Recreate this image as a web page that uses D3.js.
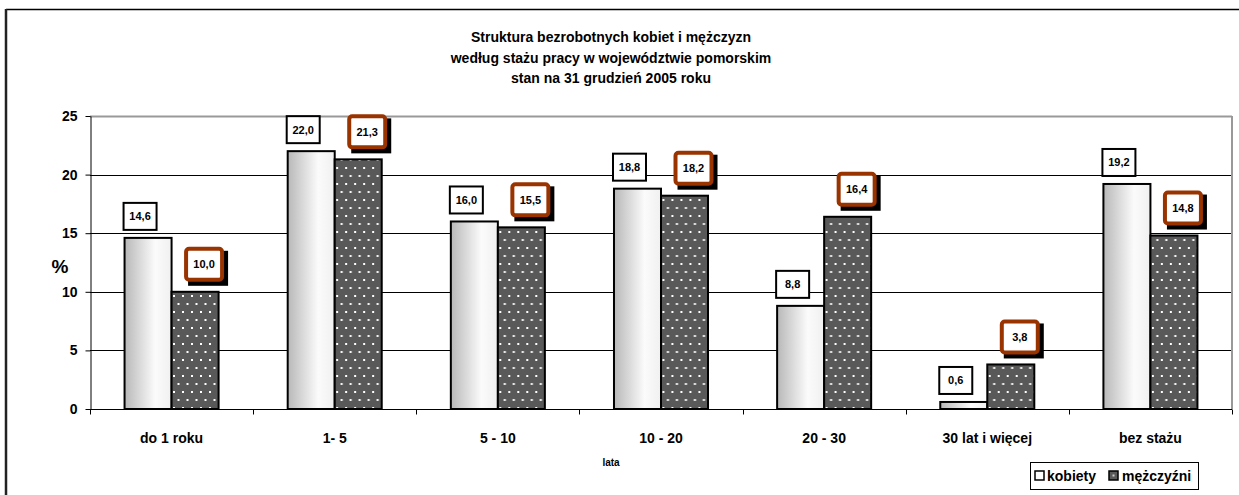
<!DOCTYPE html>
<meta charset="utf-8">
<script src="https://d3js.org/d3.v7.min.js"></script>
<style>
  body { margin: 0; background: #fff; }
  text { font-family: Arial, "Liberation Sans", sans-serif; font-weight: bold; }
</style>
<body>
<div id="my_dataviz"></div>
<script>

// data
var categories = ["do 1 roku", "1- 5", "5 - 10", "10 - 20", "20 - 30", "30 lat i więcej", "bez stażu"];
var kobiety = [14.6, 22.0, 16.0, 18.8, 8.8, 0.6, 19.2];
var mezczyzni = [10.0, 21.3, 15.5, 18.2, 16.4, 3.8, 14.8];
var seriesNames = ["kobiety", "mężczyźni"];
var yTicks = [0, 5, 10, 15, 20, 25];
var titleLines = ["Struktura bezrobotnych kobiet i mężczyzn",
  "według stażu pracy w województwie pomorskim",
  "stan na 31 grudzień 2005 roku"];

var W = 1239, H = 495;
var margin = { top: 116, right: 7, bottom: 86, left: 90 },
  width = W - margin.left - margin.right,
  height = H - margin.top - margin.bottom;

var root = d3.select("#my_dataviz").append("svg")
  .attr("width", W).attr("height", H);

var defs = root.append("defs");
var grad = defs.append("linearGradient").attr("id", "kobGrad")
  .attr("x1", "0%").attr("x2", "100%").attr("y1", "0%").attr("y2", "0%");
grad.append("stop").attr("offset", "0%").attr("stop-color", "#b8b8b8");
grad.append("stop").attr("offset", "65%").attr("stop-color", "#fbfbfb");
grad.append("stop").attr("offset", "100%").attr("stop-color", "#f0f0f0");

var pat = defs.append("pattern").attr("id", "dots")
  .attr("patternUnits", "userSpaceOnUse").attr("width", 9).attr("height", 16);
pat.append("rect").attr("width", 9).attr("height", 16).attr("fill", "#595959");
pat.append("rect").attr("x", 2).attr("y", 3).attr("width", 2).attr("height", 2).attr("fill", "#fff");
pat.append("rect").attr("x", 6.5).attr("y", 11).attr("width", 2).attr("height", 2).attr("fill", "#fff");

// outer frame
root.append("line").attr("x1", 6).attr("x2", W).attr("y1", 9.5).attr("y2", 9.5)
  .attr("stroke", "#000").attr("stroke-width", 1.5);
root.append("line").attr("x1", 6).attr("x2", 6).attr("y1", 9).attr("y2", H)
  .attr("stroke", "#222").attr("stroke-width", 2.5);

// title
root.append("g").selectAll("text").data(titleLines).enter().append("text")
  .attr("x", 611).attr("y", function (d, i) { return 42 + i * 20.5; })
  .attr("text-anchor", "middle").attr("font-size", "14px").text(function (d) { return d; });

var svg = root.append("g").attr("transform", "translate(" + margin.left + "," + margin.top + ")");

var x0 = d3.scaleBand().domain(categories).range([0, width]).paddingInner(0).paddingOuter(0);
var x1 = d3.scaleBand().domain(seriesNames).range([0, x0.bandwidth()]).paddingInner(0).paddingOuter(0.735);
var y = d3.scaleLinear().domain([0, 25]).range([height, 0]);

// gridlines
svg.append("g").selectAll("line").data(yTicks.slice(1)).enter().append("line")
  .attr("x1", 0).attr("x2", width)
  .attr("y1", function (d) { return Math.round(y(d)) + 0.5; })
  .attr("y2", function (d) { return Math.round(y(d)) + 0.5; })
  .attr("stroke", function (d) { return d === 25 ? "#999" : "#000"; })
  .attr("stroke-width", function (d) { return d === 25 ? 2 : 1; });
svg.append("line").attr("x1", width).attr("x2", width).attr("y1", 0).attr("y2", height)
  .attr("stroke", "#999").attr("stroke-width", 2);

// y axis
var yAxis = svg.append("g").attr("transform", "translate(0.5,0)")
  .call(d3.axisLeft(y).tickValues(yTicks).tickSize(5).tickPadding(8).tickSizeOuter(0));
yAxis.selectAll("text").attr("font-size", "14px").attr("fill", "#000")
  .style("font-family", "Arial, 'Liberation Sans', sans-serif").style("font-weight", "bold");
yAxis.selectAll("line,path").attr("stroke", "#000");

// x axis
var xg = svg.append("g").attr("transform", "translate(0," + (Math.round(height) + 0.5) + ")");
xg.append("line").attr("x1", 0).attr("x2", width).attr("stroke", "#000");
xg.selectAll("line.tick").data(d3.range(categories.length + 1)).enter().append("line")
  .attr("class", "tick")
  .attr("x1", function (i) { return Math.round(i * x0.step()) + 0.5; })
  .attr("x2", function (i) { return Math.round(i * x0.step()) + 0.5; })
  .attr("y1", 0).attr("y2", 5).attr("stroke", "#000");
xg.selectAll("text").data(categories).enter().append("text")
  .attr("x", function (d) { return x0(d) + x0.bandwidth() / 2; })
  .attr("y", 33).attr("text-anchor", "middle").attr("font-size", "14px")
  .text(function (d) { return d; });

// axis titles
root.append("text").attr("x", 611).attr("y", 466).attr("text-anchor", "middle")
  .attr("font-size", "10px").text("lata");
root.append("text").attr("x", 60).attr("y", 273).attr("text-anchor", "middle")
  .attr("font-size", "19px").text("%");

// bars
var rows = categories.map(function (c, i) { return { cat: c, v: [kobiety[i], mezczyzni[i]] }; });
var fills = ["url(#kobGrad)", "url(#dots)"];

var groups = svg.append("g").selectAll("g").data(rows).enter().append("g")
  .attr("transform", function (d) { return "translate(" + x0(d.cat) + ",0)"; });

groups.selectAll("rect").data(function (d) { return d.v.map(function (v, j) { return { s: j, v: v }; }); })
  .enter().append("rect")
  .attr("x", function (d) { return x1(seriesNames[d.s]); })
  .attr("y", function (d) { return y(d.v); })
  .attr("width", x1.bandwidth())
  .attr("height", function (d) { return height - y(d.v); })
  .attr("fill", function (d) { return fills[d.s]; })
  .attr("stroke", "#000").attr("stroke-width", 2);

// labels
function fmt(v) { return v.toFixed(1).replace(".", ","); }

groups.each(function (d) {
  var g = d3.select(this);
  // kobiety label
  var cx = x1(seriesNames[0]) + x1.bandwidth() / 2 - 8;
  var top = y(d.v[0]) - 8;
  g.append("rect").attr("x", cx - 16.5).attr("y", top - 27).attr("width", 33).attr("height", 27)
    .attr("fill", "#fff").attr("stroke", "#000").attr("stroke-width", 2);
  g.append("text").attr("x", cx).attr("y", top - 9.5).attr("text-anchor", "middle")
    .attr("font-size", "11px").text(fmt(d.v[0]));
  // mezczyzni label
  var mx = x1(seriesNames[1]) + x1.bandwidth() / 2 + 9;
  var mtop = y(d.v[1]) - 10;
  g.append("rect").attr("x", mx - 20 + 4).attr("y", mtop - 35 + 4).attr("width", 40).attr("height", 35)
    .attr("fill", "#000");
  g.append("rect").attr("x", mx - 18).attr("y", mtop - 33).attr("width", 36).attr("height", 31)
    .attr("rx", 3).attr("fill", "#fff").attr("stroke", "#993300").attr("stroke-width", 4);
  g.append("text").attr("x", mx).attr("y", mtop - 13.5).attr("text-anchor", "middle")
    .attr("font-size", "11px").text(fmt(d.v[1]));
});

// legend
var lg = root.append("g");
lg.append("rect").attr("x", 1030.5).attr("y", 462.5).attr("width", 168).attr("height", 27)
  .attr("fill", "#fff").attr("stroke", "#000");
lg.append("rect").attr("x", 1035).attr("y", 471).attr("width", 9).attr("height", 9)
  .attr("fill", "#fff").attr("stroke", "#000").attr("stroke-width", 1.5);
lg.append("text").attr("x", 1047).attr("y", 481).attr("font-size", "14px").text(seriesNames[0]);
lg.append("rect").attr("x", 1109).attr("y", 471).attr("width", 9).attr("height", 9)
  .attr("fill", "#595959").attr("stroke", "#000").attr("stroke-width", 1.5);
lg.append("rect").attr("x", 1112.5).attr("y", 474.5).attr("width", 2).attr("height", 2).attr("fill", "#ccc");
lg.append("text").attr("x", 1122).attr("y", 481).attr("font-size", "14px").text(seriesNames[1]);

</script>
</body>
